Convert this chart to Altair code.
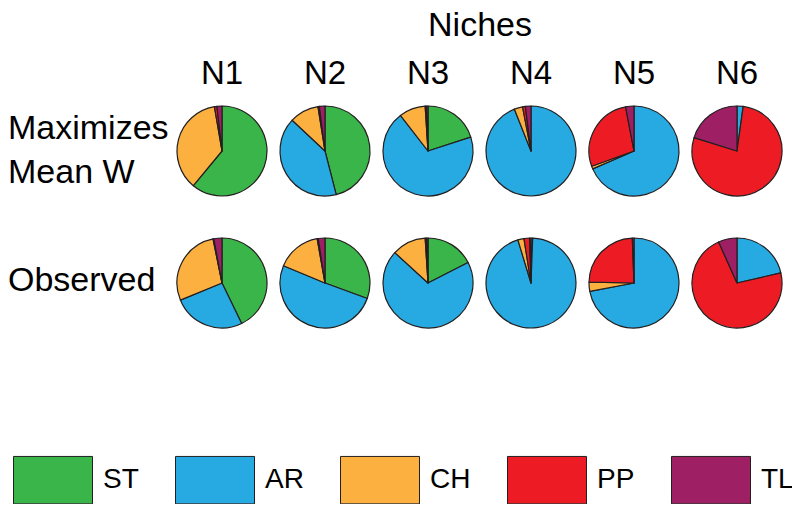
import altair as alt
import pandas as pd

niches = ["N1", "N2", "N3", "N4", "N5", "N6"]
rows = ["Maximizes\nMean W", "Observed"]
categories = ["ST", "AR", "CH", "PP", "TL"]
colors = ["#3AB54A", "#27AAE1", "#FBB040", "#ED1C24", "#9E1F63"]

# Row 1: maximizes mean W (percent per niche)
max_ST = [61.0, 46.0, 20.0, 0.0, 0.0, 0.0]
max_AR = [0.0, 41.0, 69.5, 94.0, 68.5, 2.2]
max_CH = [36.3, 10.5, 9.5, 3.0, 1.0, 0.0]
max_PP = [0.9, 0.5, 0.4, 1.0, 27.5, 77.6]
max_TL = [1.8, 2.0, 0.6, 2.0, 3.0, 20.2]

# Row 2: observed
obs_ST = [42.8, 30.7, 17.5, 0.6, 0.0, 0.0]
obs_AR = [26.0, 50.9, 69.3, 94.7, 72.0, 21.4]
obs_CH = [28.0, 16.0, 12.2, 2.2, 3.3, 0.0]
obs_PP = [0.3, 0.4, 0.5, 2.0, 24.1, 71.9]
obs_TL = [2.9, 2.4, 0.5, 0.5, 0.6, 6.7]

series = {
    rows[0]: [max_ST, max_AR, max_CH, max_PP, max_TL],
    rows[1]: [obs_ST, obs_AR, obs_CH, obs_PP, obs_TL],
}

records = []
for r, vals in series.items():
    for ci, cat in enumerate(categories):
        for ni, n in enumerate(niches):
            records.append({"row": r, "niche": n, "cat": cat, "order": ci, "value": vals[ci][ni]})
df = pd.DataFrame(records)

FONT = "Liberation Sans"
INK = "#231F20"

xscale = alt.Scale(type="point", domain=niches, range=[214, 729], padding=0)
yscale = alt.Scale(type="point", domain=rows, range=[143, 275], padding=0)

pies = (
    alt.Chart(df)
    .transform_filter("datum.value > 0")
    .transform_joinaggregate(total="sum(value)", groupby=["row", "niche"])
    .transform_window(cum="sum(value)", sort=[alt.SortField("order")], groupby=["row", "niche"], frame=[None, 0])
    .transform_calculate(t1="(datum.cum - datum.value) / datum.total", t2="datum.cum / datum.total")
    .mark_arc(outerRadius=45, stroke=INK, strokeWidth=1.2, strokeJoin="round")
    .encode(
        x=alt.X("niche:N", scale=xscale, axis=None),
        y=alt.Y("row:N", scale=yscale, axis=None),
        theta=alt.Theta("t1:Q", scale=alt.Scale(domain=[0, 1], range=[0, 6.283185307])),
        theta2="t2:Q",
        color=alt.Color(
            "cat:N",
            scale=alt.Scale(domain=categories, range=colors),
            legend=alt.Legend(
                title=None,
                orient="none",
                legendX=5,
                legendY=432,
                direction="horizontal",
                symbolType="M-1,-0.6H1V0.6H-1Z",
                symbolSize=6241,
                symbolStrokeColor=INK,
                symbolStrokeWidth=1,
                symbolOpacity=1,
                labelFont=FONT,
                labelFontSize=28,
                labelColor="#000000",
                labelOffset=10,
                columnPadding=34,
                labelBaseline="middle",
            ),
        ),
    )
)

col_df = pd.DataFrame({"niche": niches})
col_labels = (
    alt.Chart(col_df)
    .mark_text(font=FONT, fontSize=33, baseline="alphabetic", align="center", color="#000000")
    .encode(x=alt.X("niche:N", scale=xscale, axis=None), y=alt.value(76), text="niche:N")
)

title_df = pd.DataFrame({"t": ["Niches"]})
title = (
    alt.Chart(title_df)
    .mark_text(font=FONT, fontSize=34, baseline="alphabetic", align="center", color="#000000")
    .encode(x=alt.value(472), y=alt.value(28), text="t:N")
)

row_df = pd.DataFrame({"row": rows})
row_label_1 = (
    alt.Chart(row_df)
    .transform_filter(alt.datum.row == rows[0])
    .mark_text(font=FONT, fontSize=34, baseline="middle", align="left", lineBreak="\n", lineHeight=44,
               color="#000000", dy=-22)
    .encode(x=alt.value(0), y=alt.Y("row:N", scale=yscale, axis=None), text="row:N")
)
row_label_2 = (
    alt.Chart(row_df)
    .transform_filter(alt.datum.row == rows[1])
    .mark_text(font=FONT, fontSize=34, baseline="middle", align="left", color="#000000", dy=-2)
    .encode(x=alt.value(0), y=alt.Y("row:N", scale=yscale, axis=None), text="row:N")
)

chart = (
    alt.layer(pies, col_labels, title, row_label_1, row_label_2)
    .properties(width=784, height=496, autosize=alt.AutoSizeParams(type="none"), padding=0)
    .configure_view(stroke=None)
)

chart.save("out.html", embed_options={"renderer": "svg", "actions": False})
